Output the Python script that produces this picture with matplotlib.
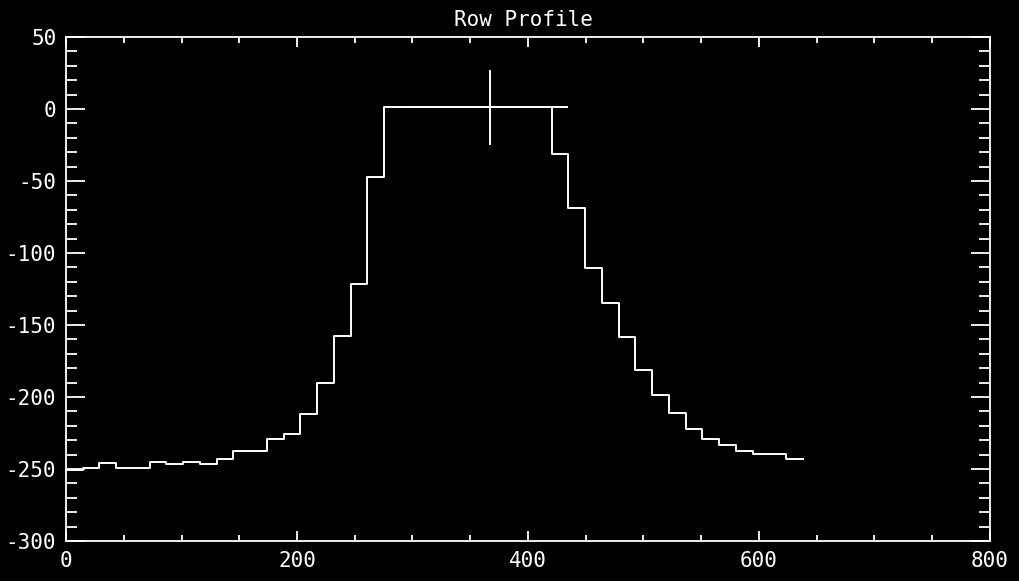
import numpy as np
import matplotlib
matplotlib.use("Agg")
import matplotlib.pyplot as plt
from matplotlib.ticker import MultipleLocator

# Row profile: left edge of each sample bin and its level
bin_left = [0, 14.5, 29, 43.5, 58, 72.5, 87, 101.5, 116, 130.5,
            145, 159.5, 174, 188.5, 203, 217.5, 232, 246.5, 261, 275.5,
            290, 304.5, 319, 333.5, 348, 362.5, 377, 391.5, 406, 420.5,
            435, 449.5, 464, 478.5, 493, 507.5, 522, 536.5, 551, 565.5,
            580, 594.5, 609, 623.5]
bin_right_end = 638
levels = [-250.5, -249.5, -246, -249.5, -249.5, -245, -246.3, -245, -246.3, -243,
          -237.3, -237.3, -229.2, -225.7, -211.8, -190, -157.4, -121.7, -47.4, 1.2,
          1.2, 1.2, 1.2, 1.2, 1.2, 1.2, 1.2, 1.2, 1.2, -31.3,
          -69, -110.2, -134.8, -158.3, -181.4, -198.8, -211.3, -222.4, -229, -233.3,
          -237.4, -239.6, -239.6, -243]

# cursor cross
cross_x = 367
cross_y = 1.2
cross_half_w = 67
cross_half_h = 25.5

plt.rcParams['axes.unicode_minus'] = False
plt.rcParams['font.family'] = ['DejaVu Sans Mono']

fig = plt.figure(figsize=(10.2, 5.81), dpi=100, facecolor='black')
ax = fig.add_axes([66 / 1020, 1 - 541 / 581, 924 / 1020, 504 / 581])
ax.set_facecolor('black')

xs = bin_left + [bin_right_end]
ys = levels + [levels[-1]]
ax.step(xs, ys, where='post', color='white', lw=1.4)

ax.plot([cross_x - cross_half_w, cross_x + cross_half_w], [cross_y, cross_y], color='white', lw=1.4)
ax.plot([cross_x, cross_x], [cross_y - cross_half_h, cross_y + cross_half_h], color='white', lw=1.4)

ax.set_xlim(0, 800)
ax.set_ylim(-300, 50)
ax.xaxis.set_major_locator(MultipleLocator(200))
ax.xaxis.set_minor_locator(MultipleLocator(50))
ax.yaxis.set_major_locator(MultipleLocator(50))
ax.yaxis.set_minor_locator(MultipleLocator(10))

for s in ax.spines.values():
    s.set_color('white')
    s.set_linewidth(1.3)

ax.tick_params(axis='both', which='both', direction='in', colors='white',
               top=True, right=True, width=1.3, labelsize=15)
ax.tick_params(axis='x', which='major', length=7, pad=7)
ax.tick_params(axis='x', which='minor', length=4)
ax.tick_params(axis='y', which='major', length=13.5, pad=7)
ax.tick_params(axis='y', which='minor', length=8)

fig.text(523 / 1020, 1 - 20 / 581, 'Row Profile', color='white', fontsize=15,
         ha='center', va='center')

fig.savefig('out.png', dpi=100, facecolor='black')
